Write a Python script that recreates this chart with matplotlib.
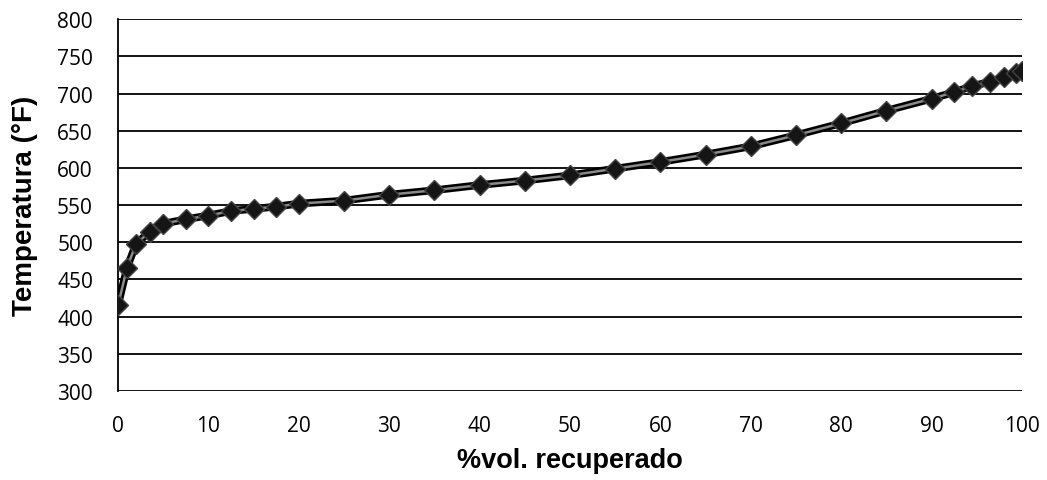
import matplotlib.pyplot as plt
from matplotlib.ticker import MultipleLocator

# %vol recuperado vs temperatura (°F)
vol_pct = [0, 1, 2, 3.5, 5, 7.5, 10, 12.5, 15, 17.5, 20, 25, 30, 35, 40, 45,
           50, 55, 60, 65, 70, 75, 80, 85, 90, 92.5, 94.5, 96.5, 98, 99.3, 100]
temp_f = [415, 466, 498, 514, 525, 531, 536, 542, 545, 548, 552, 556, 564, 570,
          577, 583, 590, 599, 608, 618, 629, 644, 660, 677, 693, 702, 710, 716,
          722, 727, 731]

fig = plt.figure(figsize=(10.47, 4.81), dpi=100)
ax = fig.add_axes([0.1127, 0.185, 0.8634, 0.773])

ax.plot(vol_pct, temp_f, color="black", lw=5.5, zorder=3, solid_joinstyle="round")
ax.plot(vol_pct, temp_f, color="#8a8a8a", lw=1.8, zorder=4)
ax.plot(vol_pct, temp_f, ls="none", marker="D", ms=10.5, mfc="#151515",
        mec="#444444", mew=1.0, zorder=5)

ax.set_xlim(0, 100)
ax.set_ylim(300, 800)
ax.xaxis.set_major_locator(MultipleLocator(10))
ax.yaxis.set_major_locator(MultipleLocator(50))
ax.grid(axis="y", color="black", lw=1.3)
ax.set_axisbelow(True)

for s in ["top", "right", "bottom"]:
    ax.spines[s].set_visible(False)
ax.spines["left"].set_linewidth(1.3)
ax.tick_params(axis="y", length=0, labelsize=15, pad=18)
ax.tick_params(axis="x", length=0, labelsize=15, pad=17)
for lbl in ax.get_xticklabels() + ax.get_yticklabels():
    lbl.set_fontfamily("Open Sans")

ax.set_xlabel("%vol. recuperado", fontsize=19.5, fontweight="bold",
              family="Liberation Sans", labelpad=8)
ax.set_ylabel("Temperatura (°F)", fontsize=20, fontweight="bold",
              family="Liberation Sans", labelpad=14)

fig.savefig("out.png", dpi=100)
